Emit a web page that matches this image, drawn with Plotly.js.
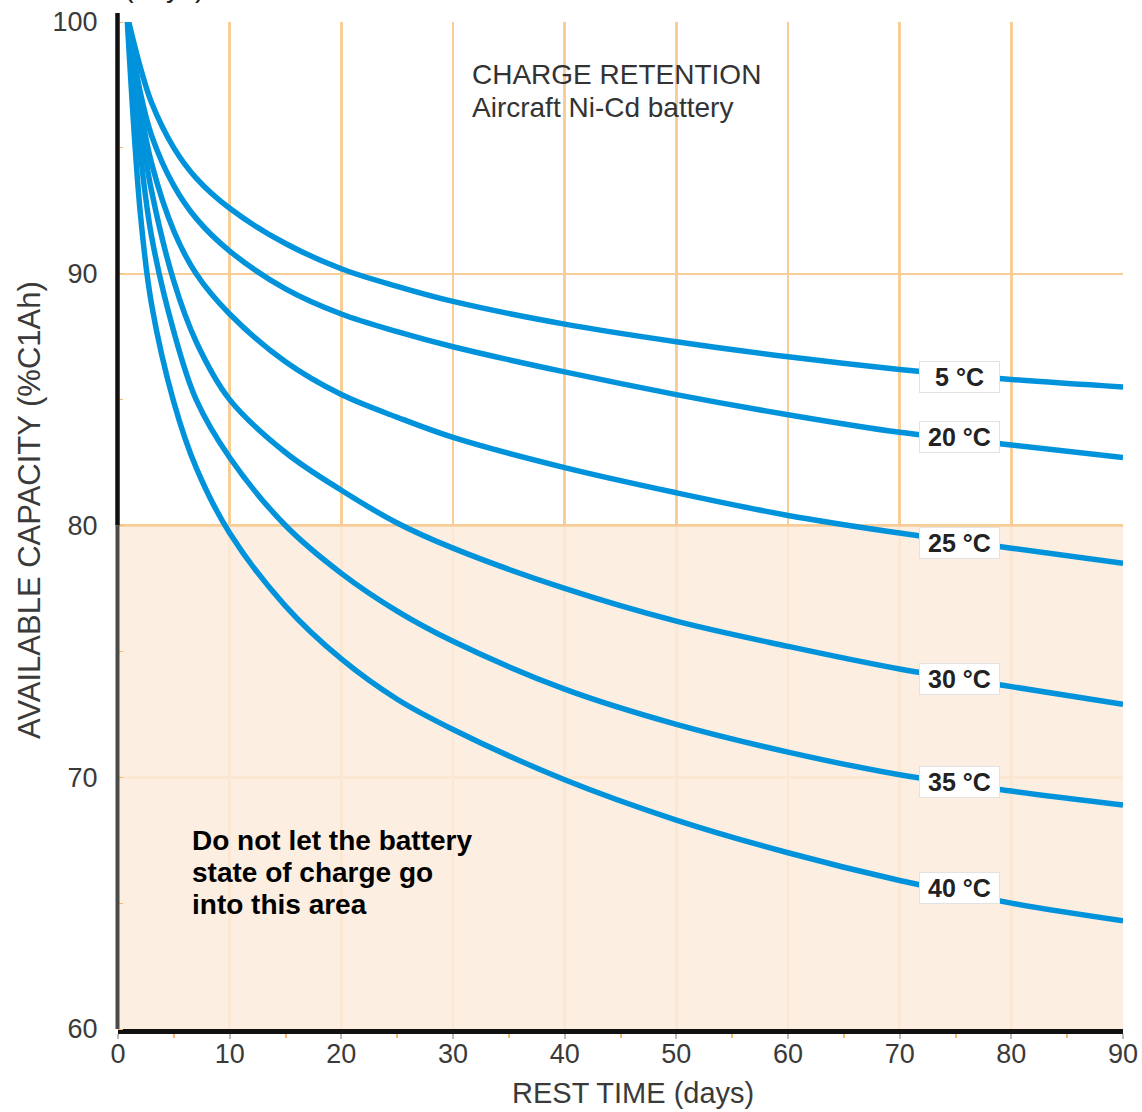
<!DOCTYPE html>
<html><head><meta charset="utf-8">
<script src="https://cdn.plot.ly/plotly-3.0.1.min.js"></script>
<style>html,body{margin:0;padding:0;background:#fff}#chart{width:1142px;height:1112px}</style>
</head><body><div id="chart"></div>
<script>
// Rest time (days)
const days = [0.8, 2, 3, 5, 7, 10, 15, 20, 25, 30, 40, 50, 60, 70, 80, 90];
// Available capacity (% C1Ah) per storage temperature
const cap5C  = [100.3, 98.2, 96.8, 95.0, 93.8, 92.6, 91.2, 90.2, 89.5, 88.9, 88.0, 87.3, 86.7, 86.2, 85.8, 85.5];
const cap20C = [100.3, 97.2, 95.5, 93.5, 92.2, 90.9, 89.4, 88.4, 87.7, 87.1, 86.1, 85.2, 84.4, 83.7, 83.2, 82.7];
const cap25C = [100.3, 96.6, 94.4, 91.7, 90.0, 88.4, 86.5, 85.2, 84.3, 83.5, 82.3, 81.3, 80.4, 79.7, 79.1, 78.5];
const cap30C = [100.3, 96.0, 93.3, 89.7, 87.3, 85.0, 82.9, 81.4, 80.1, 79.1, 77.5, 76.2, 75.2, 74.3, 73.6, 72.9];
const cap35C = [100.3, 94.8, 91.5, 87.7, 85.0, 82.7, 80.0, 78.1, 76.6, 75.4, 73.5, 72.1, 71.0, 70.1, 69.45, 68.9];
const cap40C = [100.3, 92.4, 88.8, 84.9, 82.3, 79.7, 76.8, 74.7, 73.1, 71.9, 69.9, 68.3, 67.0, 65.9, 65.0, 64.3];

const seriesNames = ['5 °C', '20 °C', '25 °C', '30 °C', '35 °C', '40 °C'];
const seriesValues = [cap5C, cap20C, cap25C, cap30C, cap35C, cap40C];
const labelX = 75.4;
const labelY = [85.9, 83.5, 79.3, 73.9, 69.8, 65.6];

const xTicks = [0, 10, 20, 30, 40, 50, 60, 70, 80, 90];
const yTicks = [60, 70, 80, 90, 100];
const limitLevel = 80;

const warningLines = ['Do not let the battery', 'state of charge go', 'into this area'];
const warningY = [67.5, 66.22, 64.93];

const FONT = 'Liberation Sans, Arial, Helvetica, sans-serif';
const BLUE = '#0093DB';
const GRID = '#F8CE98';
const TXT = '#3a3a3a';

const traces = seriesValues.map((vals, i) => ({
  type: 'scatter', mode: 'lines', name: seriesNames[i],
  x: days, y: vals,
  line: {color: BLUE, width: 5.5, shape: 'spline', smoothing: 1},
  cliponaxis: false, hoverinfo: 'skip', showlegend: false
}));

const labelAnns = seriesNames.map((n, i) => ({
  x: labelX, y: labelY[i], xref: 'x', yref: 'y', text: '<b>' + n + '</b>',
  showarrow: false, bgcolor: '#ffffff', bordercolor: '#e2e2e2', borderwidth: 1,
  width: 79, height: 30, borderpad: 0,
  font: {family: FONT, size: 25, color: '#222'}
}));

const warnAnns = warningLines.map((t, i) => ({
  x: 6.45, y: warningY[i], xref: 'x', yref: 'y', xanchor: 'left', yanchor: 'middle',
  text: '<b>' + t + '</b>', showarrow: false,
  font: {family: FONT, size: 28, color: '#000'}
}));

const layout = {
  width: 1142, height: 1112,
  margin: {l: 118, r: 19, t: 22, b: 83},
  paper_bgcolor: '#ffffff', plot_bgcolor: '#ffffff',
  showlegend: false,
  xaxis: {
    range: [0, 90], tickvals: xTicks, ticktext: xTicks.map(String),
    showgrid: true, gridcolor: GRID, gridwidth: 2.5, zeroline: false,
    showline: true, linecolor: '#111', linewidth: 5,
    ticks: 'outside', ticklen: 5, tickcolor: '#bbbbbb', tickwidth: 2,
    ticklabelstandoff: -8,
    tickfont: {family: FONT, size: 27, color: TXT},
    minor: {dtick: 5, ticks: 'outside', ticklen: 4, tickcolor: '#F5B870', showgrid: false},
    automargin: false, fixedrange: true
  },
  yaxis: {
    range: [60, 100], tickvals: yTicks, ticktext: yTicks.map(String),
    showgrid: true, gridcolor: GRID, gridwidth: 2.5, zeroline: false,
    showline: false,
    ticks: 'outside', ticklen: 14, tickcolor: 'rgba(0,0,0,0)',
    tickfont: {family: FONT, size: 27, color: TXT},
    minor: {dtick: 5, ticks: 'inside', ticklen: 5, tickcolor: '#F5B870', showgrid: false},
    automargin: false, fixedrange: true
  },
  shapes: [
    {type: 'rect', xref: 'x', yref: 'y', x0: 0, x1: 90, y0: 60, y1: limitLevel,
     fillcolor: 'rgba(251,235,220,0.85)', line: {width: 0}, layer: 'between'},
    {type: 'line', xref: 'x', yref: 'y', x0: 0, x1: 90, y0: limitLevel, y1: limitLevel,
     line: {color: GRID, width: 2.5}, layer: 'between'},
    {type: 'line', xref: 'paper', yref: 'paper', x0: -0.0005, x1: -0.0005, y0: 0.5, y1: 1.009,
     line: {color: '#111', width: 4.5}, layer: 'above'},
    {type: 'line', xref: 'paper', yref: 'paper', x0: -0.0005, x1: -0.0005, y0: 0, y1: 0.5,
     line: {color: '#4a4a4a', width: 4}, layer: 'above'}
  ],
  annotations: labelAnns.concat(warnAnns, [
    {x: 31.5, y: 97.9, xref: 'x', yref: 'y', xanchor: 'left', yanchor: 'middle',
     text: 'CHARGE RETENTION', showarrow: false,
     font: {family: FONT, size: 28, color: '#333'}},
    {x: 31.5, y: 96.6, xref: 'x', yref: 'y', xanchor: 'left', yanchor: 'middle',
     text: 'Aircraft Ni-Cd battery', showarrow: false,
     font: {family: FONT, size: 28, color: '#333'}},
    {x: 0.5124, y: -0.0636, xref: 'paper', yref: 'paper', xanchor: 'center', yanchor: 'middle',
     text: 'REST TIME (days)', showarrow: false,
     font: {family: FONT, size: 29, color: TXT}},
    {x: -0.0876, y: 0.5154, xref: 'paper', yref: 'paper', xanchor: 'center', yanchor: 'middle',
     text: 'AVAILABLE CAPACITY (%C1Ah)', textangle: -90, showarrow: false,
     font: {family: FONT, size: 31, color: TXT}},
    {x: 0.004, y: 1.017, xref: 'paper', yref: 'paper', xanchor: 'left', yanchor: 'bottom',
     text: '(days)', showarrow: false, font: {family: FONT, size: 29, color: '#222'}}
  ])
};

Plotly.newPlot('chart', traces, layout, {displayModeBar: false, staticPlot: true});
</script>
</body></html>
